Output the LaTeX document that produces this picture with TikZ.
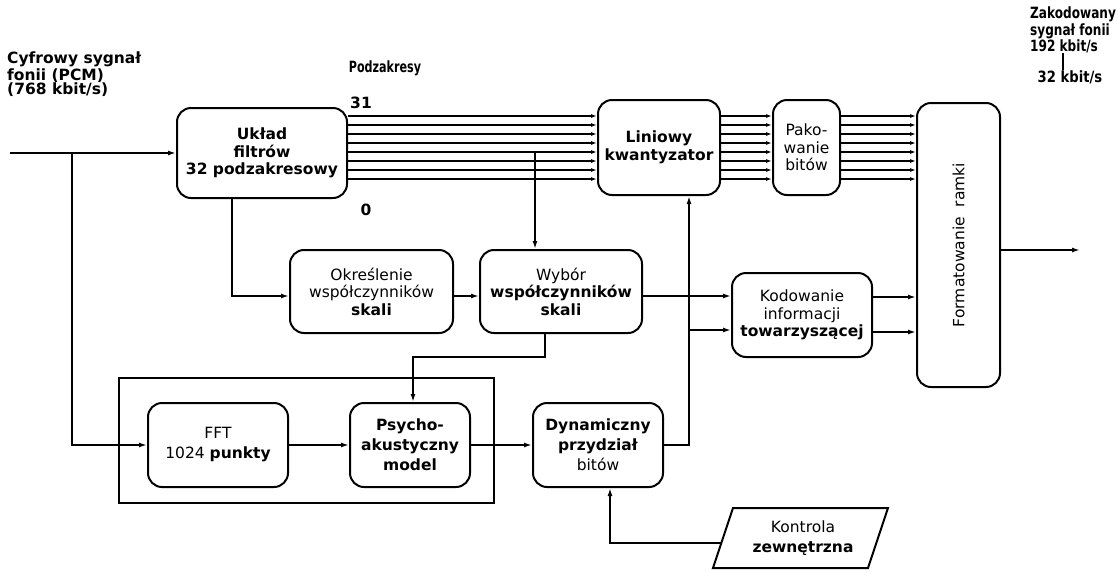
\documentclass[tikz,border=0pt]{standalone}
\usepackage{fontspec}
\setmainfont{DejaVu Sans}
\usetikzlibrary{arrows.meta}
\newcommand\dtxt{\fontsize{15.5}{17.5}\selectfont}
\newcommand\ltxt{\fontsize{15.5}{14.5}\selectfont}
\newcommand\btxt{\fontsize{15.5}{20}\selectfont}
\begin{document}
\begin{tikzpicture}[x=1pt,y=-1pt,
  blk/.style={draw,line width=2pt,rounded corners=14pt,align=center,inner sep=0pt,font=\dtxt},
  lbl/.style={inner sep=0pt,font=\dtxt},
  wire/.style={line width=1.8pt},
  arr/.style={wire,-{Latex[length=8pt,width=5pt]}},
  bund/.style={line width=1.6pt,-{Latex[length=6pt,width=4pt]}}]
\useasboundingbox (0,0) rectangle (1119,571);

% processing blocks
\node[blk,minimum width=170pt,minimum height=90pt] (filt) at (262,153) {\textbf{Układ}\\\textbf{filtrów}\\\textbf{32 podzakresowy}};
\node[blk,minimum width=122pt,minimum height=95pt] (lin) at (659,147.5) {\textbf{Liniowy}\\\textbf{kwantyzator}};
\node[blk,minimum width=67pt,minimum height=95pt] (pak) at (806.5,147.5) {Pako-\\wanie\\bitów};
\node[blk,minimum width=83pt,minimum height=284pt] (fmt) at (958.5,245) {};
\node[lbl,rotate=90] (fmtt) at (fmt.center) {Formatowanie\ \ ramki};
\node[blk,minimum width=163pt,minimum height=83pt] (okr) at (371.5,291.5) {Określenie\\współczynników\\\textbf{skali}};
\node[blk,minimum width=162pt,minimum height=83pt] (wyb) at (561,291.5) {Wybór\\\textbf{współczynników}\\\textbf{skali}};
\node[blk,minimum width=140pt,minimum height=84pt] (kod) at (802,315) {Kodowanie\\informacji\\\textbf{towarzyszącej}};
\node[blk,font=\btxt,minimum width=140pt,minimum height=84pt] (fft) at (218,445) {FFT\\1024 \textbf{punkty}};
\node[blk,font=\btxt,minimum width=120pt,minimum height=84pt] (psy) at (410,445) {\textbf{Psycho-}\\\textbf{akustyczny}\\\textbf{model}};
\node[blk,font=\btxt,minimum width=130pt,minimum height=84pt] (dyn) at (598,445) {\textbf{Dynamiczny}\\\textbf{przydział}\\bitów};
\node[draw,line width=1.6pt,inner sep=0pt,minimum width=375pt,minimum height=125pt] (grp) at (306.5,440.5) {};

% external control
\draw[line width=2pt] (733,508) -- (888,508) -- (868,568) -- (713,568) -- cycle;
\node[lbl,font=\btxt,align=center] (kon) at (803,538) {Kontrola\\\textbf{zewnętrzna}};

% labels
\node[lbl,font=\ltxt,align=left,anchor=north west] (insig) at (7,52) {\textbf{Cyfrowy sygnał}\\\textbf{fonii (PCM)}\\\textbf{(768 kbit/s)}};
\node[lbl] (podz) at (385,68) {\scalebox{0.72}[1]{\textbf{Podzakresy}}};
\node[lbl] (n31) at (361,103) {\textbf{31}};
\node[lbl] (n0) at (366,210) {\textbf{0}};
\node[lbl,font=\ltxt,align=left,anchor=north west] (outsig) at (1030,7) {\scalebox{0.78}[1]{\textbf{Zakodowany}}\\\scalebox{0.78}[1]{\textbf{sygnał fonii}}\\\scalebox{0.78}[1]{\textbf{192 kbit/s}}};
\node[lbl] (r32) at (1070,77) {\scalebox{0.85}[1]{\textbf{32 kbit/s}}};
\draw[wire] (outsig.south -| 1063,0) -- (r32.north -| 1063,0);

% coordinates for free ends and bends
\coordinate (in) at (10,153);
\coordinate (br) at (72,153);
\coordinate (fbot) at (232,198);
\coordinate (tap) at (535,152);
\coordinate (wbot) at (545,333);
\coordinate (wb1) at (545,357);
\coordinate (wb2) at (413,357);
\coordinate (dq) at (689,445);
\coordinate (dk) at (689,330);
\coordinate (konin) at (721,543);
\coordinate (kb) at (610,543);
\coordinate (out) at (1080,250);

% input and branches
\draw[arr] (in) -- (filt.west);
\draw[arr] (br) -- (br |- fft.west) -- (fft.west);
\draw[arr] (fbot) -- (fbot |- 0,296) -- (okr.west |- 0,296);
\draw[arr] (okr.east |- 0,296) -- (wyb.west |- 0,296);
\draw[arr] (tap) -- (tap |- wyb.north);
\draw[arr] (wyb.east |- 0,296) -- (kod.west |- 0,296);
\draw[arr] (wbot) -- (wb1) -- (wb2) -- (wb2 |- psy.north);
\draw[arr] (fft.east) -- (psy.west);
\draw[arr] (psy.east) -- (dyn.west);
\draw[arr] (dyn.east) -- (dq) -- (dq |- lin.south);
\draw[arr] (dk) -- (kod.west |- dk);
\draw[arr] (kod.east |- 0,297) -- (fmt.west |- 0,297);
\draw[arr] (kod.east |- 0,332) -- (fmt.west |- 0,332);
\draw[arr] (konin) -- (kb) -- (kb |- dyn.south);
\draw[arr] (fmt.east |- out) -- (out);

% subband bundles
\foreach \i in {0,...,7}{
  \pgfmathsetmacro\yy{116+9*\i}
  \draw[bund] (filt.east |- 0,\yy) -- (lin.west |- 0,\yy);
  \draw[bund] (lin.east |- 0,\yy) -- (pak.west |- 0,\yy);
  \draw[bund] (pak.east |- 0,\yy) -- (fmt.west |- 0,\yy);
}
\end{tikzpicture}
\end{document}
